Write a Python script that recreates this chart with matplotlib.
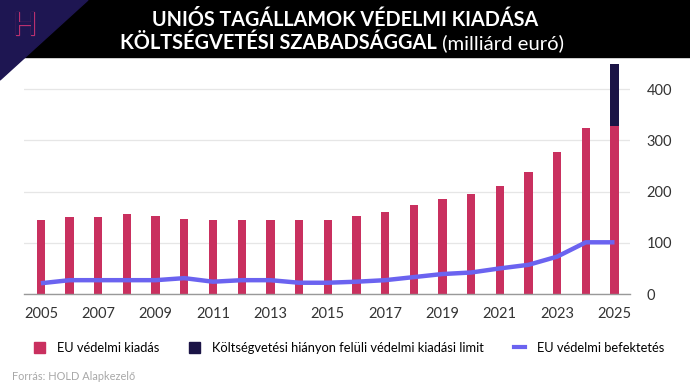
import numpy as np
import matplotlib.pyplot as plt
from matplotlib.patches import Rectangle, Polygon, Patch
from matplotlib.lines import Line2D
import matplotlib.patheffects as pe

# adatok
years = list(range(2005, 2026))
spending = [145, 150, 150, 156, 152, 147, 145, 145, 145, 145, 145,
            153, 161, 173, 186, 195, 211, 239, 277, 324, 328]
limit_extra = [0] * 20 + [121]
investment = [21, 27, 27, 27, 27, 31, 24, 27, 27, 22, 22,
              24, 27, 33, 39, 42, 50, 57, 73, 101, 101]
xticks = list(range(2005, 2026, 2))
yticks = [0, 100, 200, 300, 400]

PINK = '#c9305f'
NAVY = '#1b1446'
LINE = '#6b63f0'
FONT = 'Lato'

W, H = 690, 388
fig = plt.figure(figsize=(W / 100, H / 100), dpi=100)
fig.patch.set_facecolor('white')

def fx(px):
    return px / W

def fy(py):
    return 1 - py / H

ax = fig.add_axes([fx(24), fy(294), fx(630 - 24), (294 - 57) / H])
ax.bar(years, spending, width=0.29, color=PINK, zorder=2)
ax.bar(years, limit_extra, bottom=spending, width=0.29, color=NAVY, zorder=2)
ax.plot(years, investment, color=LINE, lw=3.2, zorder=3, solid_capstyle='butt')

ax.set_xlim(2004.41, 2025.54)
ax.set_ylim(0, 463)
ax.set_xticks(xticks)
ax.set_yticks(yticks)
ax.yaxis.tick_right()
ax.tick_params(length=0, labelsize=10.5, labelcolor='#333333')
ax.tick_params(axis='x', pad=9)
ax.tick_params(axis='y', pad=12)
for lab in ax.get_xticklabels() + ax.get_yticklabels():
    lab.set_family(FONT)
ax.grid(axis='y', color='#e6e6e6', lw=0.9, zorder=0)
for s in ['top', 'left', 'right']:
    ax.spines[s].set_visible(False)
ax.spines['bottom'].set_color('#999999')
ax.spines['bottom'].set_linewidth(1)
ax.set_facecolor('none')

# fejléc
fig.patches.append(Rectangle((0, fy(57)), 1, 1 - fy(57), transform=fig.transFigure,
                             color='black', zorder=5))
fig.patches.append(Polygon([(0, 1), (fx(88), 1), (0, fy(80))], closed=True,
                           transform=fig.transFigure, color='#1e1652', zorder=6))
fig.text(fx(25), fy(26), 'H', fontsize=23, color='#1e1652', family=FONT,
         ha='center', va='center', zorder=7,
         path_effects=[pe.withStroke(linewidth=0.9, foreground='#b8306f')])

fig.text(0.5, fy(20), 'UNIÓS TAGÁLLAMOK VÉDELMI KIADÁSA', color='white',
         fontsize=14.2, fontweight='bold', family=FONT, ha='center', va='center', zorder=7)

r = fig.canvas.get_renderer()
t1 = fig.text(0, fy(43), 'KÖLTSÉGVETÉSI SZABADSÁGGAL', color='white',
              fontsize=14.4, fontweight='bold', family=FONT, ha='left', va='center', zorder=7)
t2 = fig.text(0, fy(43), ' (milliárd euró)', color='white',
              fontsize=14.6, fontweight='normal', family=FONT, ha='left', va='center', zorder=7)
w1 = t1.get_window_extent(r).width
w2 = t2.get_window_extent(r).width
x0 = 342 - (w1 + w2) / 2
t1.set_x(fx(x0))
t2.set_x(fx(x0 + w1))

# jelmagyarázat
handles = [Patch(color=PINK), Patch(color=NAVY), Line2D([], [], color=LINE, lw=3)]
labels = ['EU védelmi kiadás', 'Költségvetési hiányon felüli védelmi kiadási limit',
          'EU védelmi befektetés']
fig.legend(handles, labels, ncol=3, loc='center left', bbox_to_anchor=(fx(34), fy(348)),
           frameon=False, borderpad=0, borderaxespad=0,
           handlelength=0.88, handleheight=0.95, handletextpad=0.9,
           columnspacing=2.3, prop={'family': FONT, 'size': 9.3})

fig.text(fx(12), fy(377), 'Forrás: HOLD Alapkezelő', color='#a8a8a8', fontsize=7.9,
         family=FONT, ha='left', va='center')

fig.savefig('out.png', dpi=100)
